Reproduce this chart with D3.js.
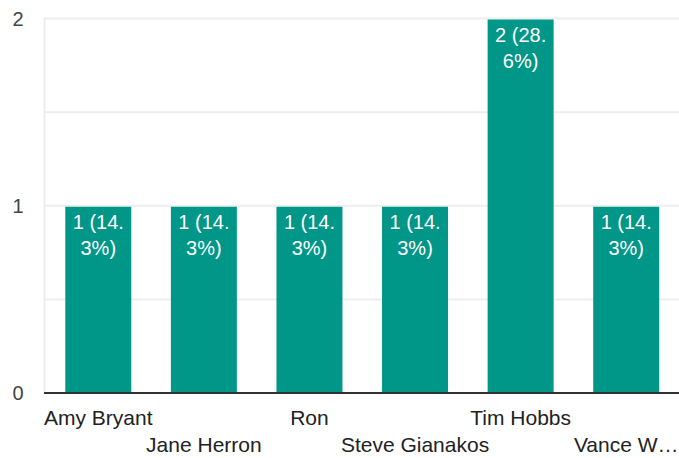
<!DOCTYPE html>
<html>
<head>
<meta charset="utf-8">
<script src="https://cdn.jsdelivr.net/npm/d3@7"></script>
<style>
  html, body { margin: 0; padding: 0; background: #fff; }
  svg { display: block; }
  text { font-family: "Liberation Sans", Arial, sans-serif; }
</style>
</head>
<body>
<svg id="chart" width="679" height="458"></svg>
<script>
const categories = ["Amy Bryant", "Jane Herron", "Ron", "Steve Gianakos", "Tim Hobbs", "Vance W…"];
const counts = [1, 1, 1, 1, 2, 1];
const percents = ["14.3", "14.3", "14.3", "14.3", "28.6", "14.3"];
const yTicks = [0, 1, 2];
const gridTicks = [0.5, 1, 1.5, 2];

const W = 679, H = 458;
const plot = { left: 45.5, right: 679, top: 18.5, bottom: 393 };

const svg = d3.select("#chart");

const x = d3.scaleBand()
  .domain(categories)
  .range([plot.left, plot.right])
  .paddingInner(0.375)
  .paddingOuter(0.1875);

const y = d3.scaleLinear().domain([0, 2]).range([plot.bottom, plot.top]);

// vertical left grid line
svg.append("line")
  .attr("x1", 44.5).attr("x2", 44.5)
  .attr("y1", plot.top - 1).attr("y2", plot.bottom)
  .attr("stroke", "#eeeeee").attr("stroke-width", 2);

// horizontal grid lines
svg.append("g").selectAll("line").data(gridTicks).join("line")
  .attr("x1", 44).attr("x2", plot.right)
  .attr("y1", d => y(d)).attr("y2", d => y(d))
  .attr("stroke", "#eeeeee").attr("stroke-width", 2);

// bars
svg.append("g").selectAll("rect").data(categories).join("rect")
  .attr("x", d => x(d))
  .attr("width", x.bandwidth())
  .attr("y", (d, i) => y(counts[i]) + 1)
  .attr("height", (d, i) => plot.bottom - y(counts[i]) - 1)
  .attr("fill", "#009688");

// baseline
svg.append("line")
  .attr("x1", 44).attr("x2", plot.right)
  .attr("y1", plot.bottom).attr("y2", plot.bottom)
  .attr("stroke", "#333333").attr("stroke-width", 2.2);

// y axis labels
svg.append("g").selectAll("text").data(yTicks).join("text")
  .attr("x", 23.5)
  .attr("y", d => y(d))
  .attr("dy", "0.36em")
  .attr("text-anchor", "end")
  .attr("font-size", 20)
  .attr("fill", "#444")
  .text(d => d);

// x axis labels (staggered)
svg.append("g").selectAll("text").data(categories).join("text")
  .attr("x", d => x(d) + x.bandwidth() / 2)
  .attr("y", (d, i) => i % 2 === 0 ? 425 : 452)
  .attr("text-anchor", "middle")
  .attr("font-size", 21)
  .attr("fill", "#222")
  .text(d => d);

// bar value labels, wrapped to bar width
const labelG = svg.append("g");
categories.forEach((c, i) => {
  const full = `${counts[i]} (${percents[i]}%)`;
  const segs = full.match(/[^ .]*[ .]?/g).filter(s => s.length);
  const maxW = x.bandwidth() - 4;
  const probe = labelG.append("text").attr("font-size", 20);
  const lines = [];
  let cur = "";
  segs.forEach(s => {
    const test = cur + s;
    probe.text(test.trim());
    if (cur && probe.node().getComputedTextLength() > maxW) {
      lines.push(cur.trim());
      cur = s;
    } else {
      cur = test;
    }
  });
  if (cur) lines.push(cur.trim());
  probe.remove();
  const t = labelG.append("text")
    .attr("text-anchor", "middle")
    .attr("font-size", 20)
    .attr("fill", "#ffffff");
  lines.forEach((ln, k) => {
    t.append("tspan")
      .attr("x", x(c) + x.bandwidth() / 2)
      .attr("y", y(counts[i]) + 23 + k * 26)
      .text(ln);
  });
});
</script>
</body>
</html>
